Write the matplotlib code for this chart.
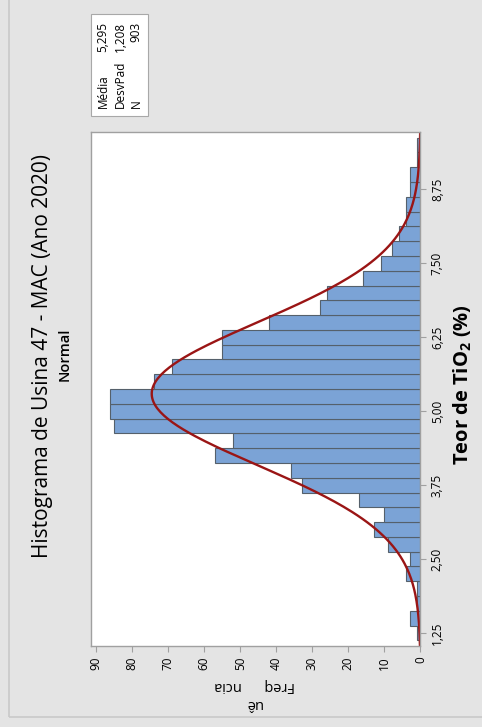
import numpy as np
import matplotlib
matplotlib.use("Agg")
import matplotlib.pyplot as plt
from matplotlib.patches import Rectangle

# <---------------------------- Dados do histograma ---------------------------->
centros = [1.25, 1.50, 1.75, 2.00, 2.25, 2.50, 2.75, 3.00, 3.25, 3.50, 3.75, 4.00,
           4.25, 4.50, 4.75, 5.00, 5.25, 5.50, 5.75, 6.00, 6.25, 6.50, 6.75, 7.00,
           7.25, 7.50, 7.75, 8.00, 8.25, 8.50, 8.75, 9.00, 9.25, 9.50]
frequencias = [1, 3, 1, 1, 4, 3, 9, 13, 10, 17, 33, 36,
               57, 52, 85, 86, 86, 74, 69, 55, 55, 42, 28, 26,
               16, 11, 8, 6, 4, 4, 3, 3, 1, 1]
largura = 0.25
media = 5.295
desvpad = 1.208
n = 903

ticks_teor = [1.25, 2.50, 3.75, 5.00, 6.25, 7.50, 8.75]
ticks_freq = [0, 10, 20, 30, 40, 50, 60, 70, 80, 90]

plt.rcParams['font.family'] = ['Open Sans', 'DejaVu Sans']
plt.rcParams['mathtext.fontset'] = 'custom'
plt.rcParams['mathtext.bf'] = 'Open Sans:bold'
plt.rcParams['mathtext.rm'] = 'Open Sans'

fig = plt.figure(figsize=(4.82, 7.27), dpi=100)
fig.patch.set_facecolor('#e4e4e4')

# moldura externa
fig.patches.append(Rectangle((9 / 482, 10 / 727), 1.0, 1.0, transform=fig.transFigure,
                             fill=False, edgecolor='#c9c9c9', linewidth=1.2))

ax = fig.add_axes([0.1888, 0.1114, 0.6836, 0.7070])
ax.set_facecolor('white')

# barras (grafico girado: frequencia na horizontal, crescendo para a esquerda)
ax.barh(centros, frequencias, height=largura, color='#7ba3d6',
        edgecolor='#55606b', linewidth=0.8)

# curva normal ajustada
yy = np.linspace(1.03, 9.72, 300)
dens = n * largura * np.exp(-0.5 * ((yy - media) / desvpad) ** 2) / (desvpad * np.sqrt(2 * np.pi))
ax.plot(dens, yy, color='#9a1515', linewidth=1.7)

ax.set_xlim(91.4, 0)
ax.set_ylim(1.03, 9.72)

ax.yaxis.tick_right()
ax.set_yticks(ticks_teor)
ax.set_yticklabels([f"{t:.2f}".replace('.', ',') for t in ticks_teor], rotation=90, va='center')
ax.set_xticks(ticks_freq)
ax.set_xticklabels([str(t) for t in ticks_freq], rotation=90, ha='center')
ax.tick_params(labelsize=8.5, colors='#a0a0a0', labelcolor='black', length=4, width=0.8)
for s in ax.spines.values():
    s.set_color('#a0a0a0')
    s.set_linewidth(1)

# textos
fig.text(42.5 / 482, 1 - 356 / 727, "Histograma de Usina 47 - MAC (Ano 2020)",
         rotation=90, ha='center', va='center', fontsize=15)
fig.text(65 / 482, 1 - 354 / 727, "Normal", rotation=90, ha='center', va='center',
         fontsize=10.5, fontweight='semibold')
fig.text(463 / 482, 1 - 385 / 727, r"Teor de TiO$_\mathbf{2}$ (%)", rotation=90,
         ha='center', va='center', fontsize=14.5, fontweight='bold')
fig.text(255 / 482, 1 - 686 / 727, "Freq      ncia", rotation=180,
         ha='center', va='center', fontsize=10.5)
fig.text(253 / 482, 1 - 704 / 727, "uê", rotation=180,
         ha='center', va='center', fontsize=10.5)

# caixa de estatisticas
fig.patches.append(Rectangle((90.7 / 482, 1 - 116.3 / 727), 57 / 482, 102 / 727,
                             transform=fig.transFigure, facecolor='white',
                             edgecolor='#a8a8a8', linewidth=0.8))
rotulos = ["Média", "DesvPad", "N"]
valores = ["5,295", "1,208", "903"]
xs = [103, 120, 136]
for r, v, x in zip(rotulos, valores, xs):
    fig.text(x / 482, 1 - 108.5 / 727, r, rotation=90, ha='center', va='bottom', fontsize=8.5)
    fig.text(x / 482, 1 - 21.5 / 727, v, rotation=90, ha='center', va='top', fontsize=8.5)

fig.savefig("out.png", dpi=100, facecolor=fig.get_facecolor())
